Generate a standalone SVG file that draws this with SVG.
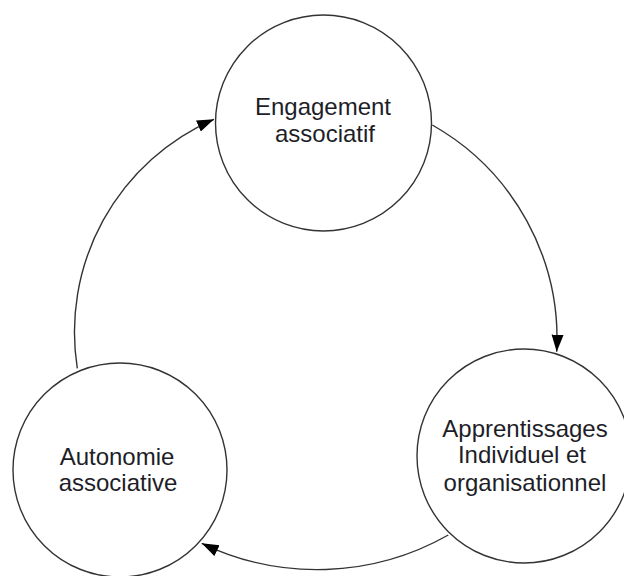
<svg xmlns="http://www.w3.org/2000/svg" width="624" height="576" viewBox="0 0 624 576">
  <style>
    .node circle { fill: #ffffff; stroke: #333333; stroke-width: 1.4; }
    .node text { font-family: "Liberation Sans", Arial, sans-serif; font-size: 24px; fill: #1e1e28; text-anchor: middle; }
    .conn path { fill: none; stroke: #333333; stroke-width: 1.4; }
  </style>
  <defs>
    <marker id="arrow" markerUnits="userSpaceOnUse" markerWidth="18" markerHeight="13" refX="17" refY="6" orient="auto">
      <path d="M0,0 L17,6 L0,12 z" fill="#000000"/>
    </marker>
  </defs>
  <rect width="624" height="576" fill="#ffffff"/>
  <g id="connectors" class="conn">
    <path d="M77.3,368.3 A232,232 0 0 1 214,119.3" marker-end="url(#arrow)"/>
    <path d="M432.3,125 A246,246 0 0 1 556.7,351.7" marker-end="url(#arrow)"/>
    <path d="M448.3,535 A266,266 0 0 1 201.7,543.3" marker-end="url(#arrow)"/>
  </g>
  <g id="node-engagement" class="node">
    <circle cx="323.5" cy="123" r="108"/>
    <text x="323" y="115">Engagement</text>
    <text x="325" y="141.5">associatif</text>
  </g>
  <g id="node-apprentissages" class="node">
    <circle cx="524" cy="456" r="107"/>
    <text x="525" y="436.5">Apprentissages</text>
    <text x="522" y="463">Individuel et</text>
    <text x="525" y="490.5">organisationnel</text>
  </g>
  <g id="node-autonomie" class="node">
    <circle cx="120" cy="470" r="107"/>
    <text x="117" y="465">Autonomie</text>
    <text x="118" y="491">associative</text>
  </g>
</svg>
